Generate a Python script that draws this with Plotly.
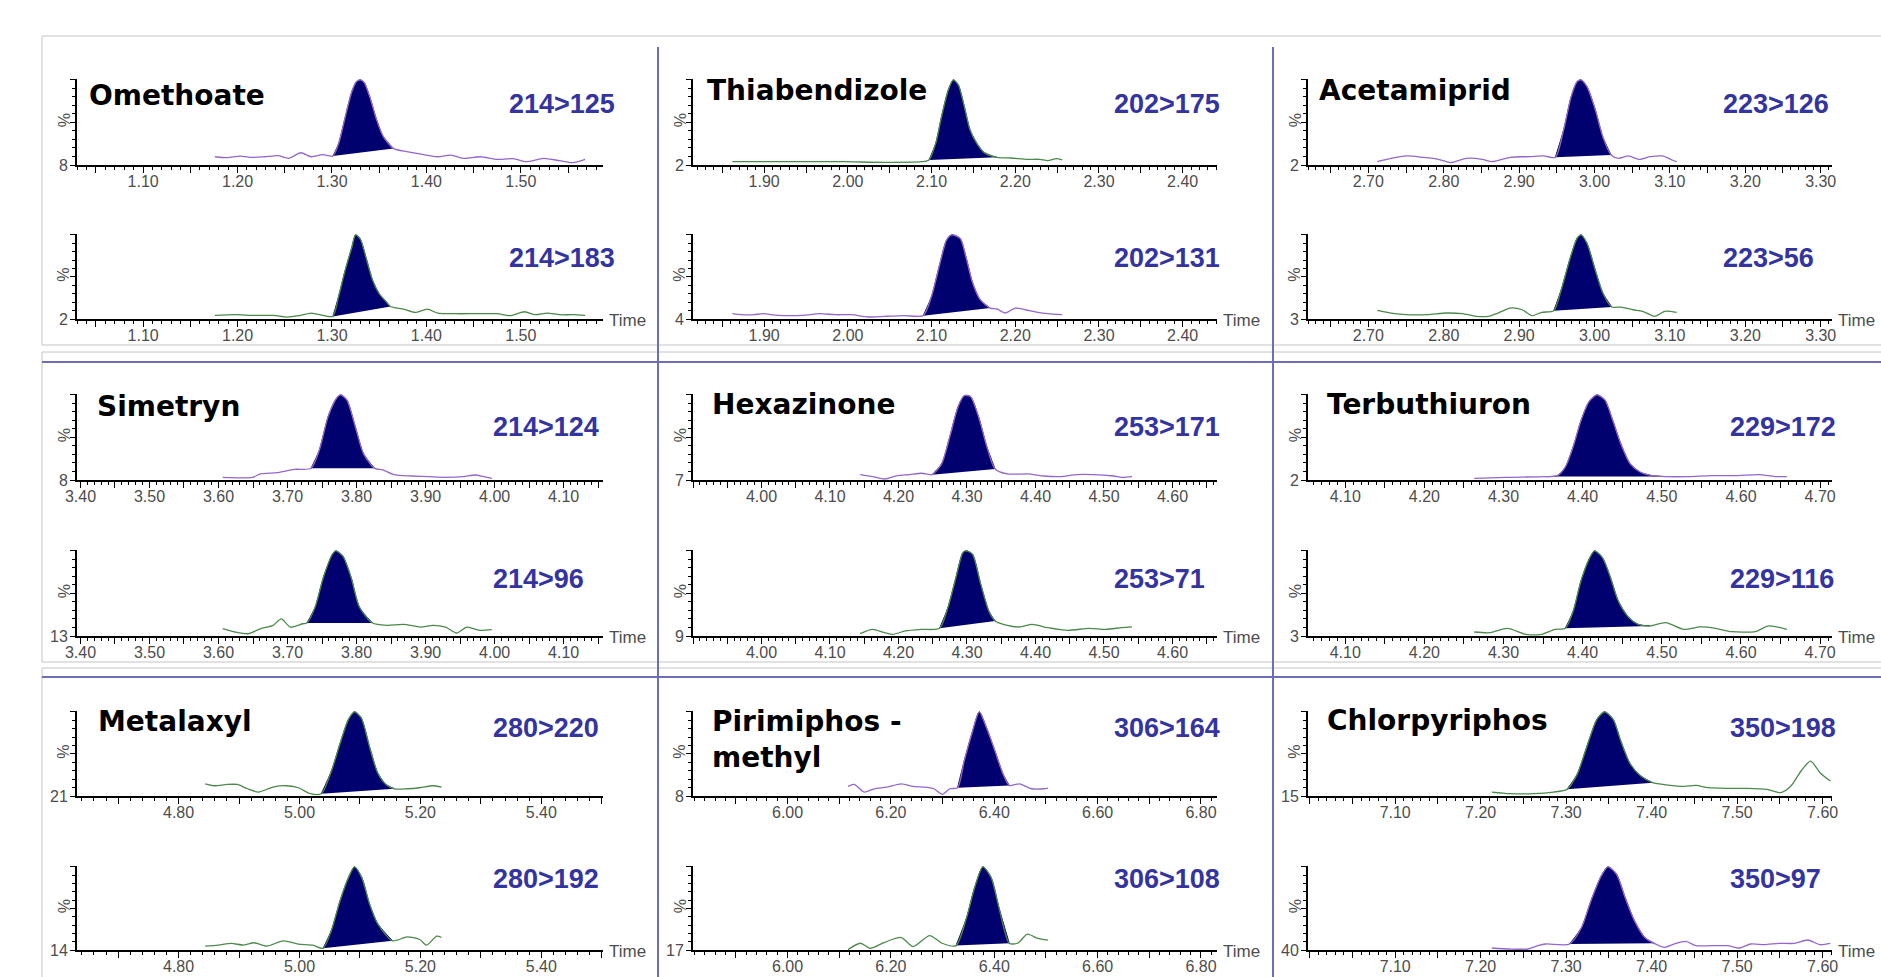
import math
import plotly.graph_objects as go

W, H = 1881, 977

# ---------------- retention-time windows (min) and labelled ticks ----------------
omethoate_xrange = [1.030, 1.587]
omethoate_ticklabels = [1.10, 1.20, 1.30, 1.40, 1.50]
thiabendizole_xrange = [1.815, 2.441]
thiabendizole_ticklabels = [1.90, 2.00, 2.10, 2.20, 2.30, 2.40]
acetamiprid_xrange = [2.620, 3.315]
acetamiprid_ticklabels = [2.70, 2.80, 2.90, 3.00, 3.10, 3.20, 3.30]
simetryn_xrange = [3.395, 4.157]
simetryn_ticklabels = [3.40, 3.50, 3.60, 3.70, 3.80, 3.90, 4.00, 4.10]
hexazinone_xrange = [3.900, 4.665]
hexazinone_ticklabels = [4.00, 4.10, 4.20, 4.30, 4.40, 4.50, 4.60]
terbuthiuron_xrange = [4.053, 4.715]
terbuthiuron_ticklabels = [4.10, 4.20, 4.30, 4.40, 4.50, 4.60, 4.70]
metalaxyl_xrange = [4.632, 5.502]
metalaxyl_ticklabels = [4.80, 5.00, 5.20, 5.40]
pirimiphos_xrange = [5.817, 6.831]
pirimiphos_ticklabels = [6.00, 6.20, 6.40, 6.60, 6.80]
chlorpyriphos_xrange = [6.998, 7.611]
chlorpyriphos_ticklabels = [7.10, 7.20, 7.30, 7.40, 7.50, 7.60]

# ---------------- chromatograms: time (min) / relative intensity (%) ----------------
# Omethoate 214>125
omethoate_125_t = [1.176, 1.189, 1.203, 1.216, 1.229, 1.243, 1.254, 1.267, 1.278, 1.290,
                   1.301, 1.307, 1.314, 1.321, 1.326, 1.330, 1.334, 1.340, 1.347, 1.354,
                   1.365, 1.379, 1.394, 1.412, 1.426, 1.439, 1.457, 1.475, 1.492, 1.506,
                   1.524, 1.541, 1.555, 1.568]
omethoate_125_i = [9.7, 8.6, 10.5, 8.9, 9.7, 10.9, 7.8, 14.4, 9.7, 12.1,
                   10.5, 25, 56, 86, 98, 100, 97, 80, 54, 34,
                   19.5, 15.6, 12.8, 9.7, 11.7, 7.8, 9.7, 6.6, 7.4, 3.9,
                   7.8, 5.1, 2.7, 6.6]
omethoate_125_peak = [1.301, 1.365]
# Omethoate 214>183
omethoate_183_t = [1.176, 1.198, 1.216, 1.238, 1.252, 1.265, 1.278, 1.292, 1.301, 1.307,
                   1.314, 1.321, 1.325, 1.330, 1.336, 1.343, 1.350, 1.357, 1.362, 1.376,
                   1.388, 1.401, 1.412, 1.430, 1.452, 1.475, 1.488, 1.504, 1.515, 1.528,
                   1.541, 1.555, 1.568]
omethoate_183_i = [4.3, 5.1, 4.3, 4.3, 2.3, 3.9, 7.0, 3.9, 3.1, 26.6,
                   57.8, 85, 100, 95, 73, 46, 30, 21, 14.8, 11.7,
                   7.8, 11.7, 7.0, 6.3, 6.3, 6.3, 3.9, 8.6, 5.1, 7.0,
                   5.1, 5.1, 4.3]
omethoate_183_peak = [1.301, 1.362]

# Thiabendizole 202>175
thiabendizole_175_t = [1.862, 1.898, 1.946, 1.995, 2.044, 2.088, 2.097, 2.105, 2.112, 2.120,
                       2.126, 2.132, 2.139, 2.146, 2.154, 2.163, 2.178, 2.195, 2.215, 2.229,
                       2.239, 2.249, 2.256]
thiabendizole_175_i = [3.9, 3.9, 3.9, 3.9, 3.1, 3.9, 5.9, 25.5, 57, 88,
                       100, 94, 69, 41, 25.5, 14.5, 9.0, 8.2, 6.7, 6.7,
                       5.1, 7.5, 5.9]
thiabendizole_175_peak = [2.097, 2.178]
# Thiabendizole 202>131
thiabendizole_131_t = [1.862, 1.873, 1.888, 1.898, 1.917, 1.946, 1.966, 1.985, 2.005, 2.024,
                       2.044, 2.068, 2.090, 2.100, 2.110, 2.118, 2.124, 2.134, 2.141, 2.149,
                       2.158, 2.170, 2.178, 2.188, 2.200, 2.212, 2.227, 2.239, 2.256]
thiabendizole_131_i = [6.3, 5.1, 5.1, 6.3, 4.3, 4.3, 6.3, 5.1, 5.1, 2.4,
                       3.2, 4.0, 4.0, 27, 66, 94, 100, 96, 74, 43,
                       23, 13, 11.9, 7.1, 13, 11, 7.9, 6.3, 5.1]
thiabendizole_131_peak = [2.090, 2.170]

# Acetamiprid 223>126
acetamiprid_126_t = [2.712, 2.730, 2.751, 2.772, 2.793, 2.809, 2.830, 2.851, 2.864, 2.888,
                     2.914, 2.933, 2.948, 2.959, 2.969, 2.977, 2.982, 2.990, 3.001, 3.011,
                     3.022, 3.032, 3.045, 3.059, 3.074, 3.090, 3.103, 3.109]
acetamiprid_126_i = [3.9, 7.8, 10.6, 9.0, 6.7, 2.7, 7.8, 6.7, 3.9, 9.0,
                     9.8, 10.6, 9.0, 41, 80, 98, 100, 92, 65, 33,
                     11.8, 7.8, 10.6, 6.7, 9.8, 10.6, 5.9, 3.9]
acetamiprid_126_peak = [2.948, 3.022]
# Acetamiprid 223>56
acetamiprid_56_t = [2.712, 2.730, 2.751, 2.778, 2.804, 2.825, 2.843, 2.859, 2.872, 2.888,
                    2.904, 2.917, 2.930, 2.946, 2.956, 2.967, 2.977, 2.982, 2.990, 3.001,
                    3.011, 3.023, 3.035, 3.051, 3.064, 3.080, 3.093, 3.109]
acetamiprid_56_i = [10.3, 7.1, 5.1, 5.1, 7.1, 6.3, 3.2, 3.2, 7.1, 13,
                    11, 4.0, 7.9, 9.9, 35, 70, 96, 100, 90, 58,
                    31, 14.2, 14.2, 11, 9.1, 3.2, 9.1, 7.9]
acetamiprid_56_peak = [2.946, 3.023]

# Simetryn 214>124
simetryn_124_t = [3.606, 3.649, 3.661, 3.685, 3.710, 3.734, 3.746, 3.759, 3.771, 3.777,
                  3.786, 3.798, 3.810, 3.826, 3.838, 3.856, 3.880, 3.905, 3.929, 3.954,
                  3.972, 3.984, 3.996]
simetryn_124_i = [3.1, 3.1, 7.1, 8.6, 12.5, 13.7, 35, 75, 96, 100,
                  94, 63, 31, 13.7, 11.8, 5.9, 4.7, 3.9, 3.1, 3.9,
                  5.9, 3.9, 2.0]
simetryn_124_peak = [3.734, 3.826]
# Simetryn 214>96
simetryn_96_t = [3.606, 3.624, 3.643, 3.661, 3.679, 3.691, 3.704, 3.722, 3.728, 3.740,
                 3.752, 3.765, 3.770, 3.780, 3.792, 3.804, 3.823, 3.844, 3.868, 3.893,
                 3.911, 3.929, 3.945, 3.960, 3.978, 3.996]
simetryn_96_i = [8.6, 4.7, 2.7, 8.6, 12.5, 20, 10.5, 14.4, 15.2, 33.9,
                 69, 96, 100, 94, 69, 34, 15.2, 12.5, 13.6, 10.5,
                 12.5, 10.5, 3.5, 10.5, 6.6, 7.4]
simetryn_96_peak = [3.728, 3.823]

# Hexazinone 253>171
hexazinone_171_t = [4.144, 4.162, 4.180, 4.198, 4.216, 4.234, 4.249, 4.263, 4.275, 4.287,
                    4.296, 4.305, 4.317, 4.329, 4.341, 4.359, 4.389, 4.412, 4.436, 4.460,
                    4.484, 4.514, 4.526, 4.541]
hexazinone_171_i = [6.3, 4.0, 1.2, 5.1, 6.3, 7.9, 6.3, 19, 51, 86,
                    99, 98, 74, 39, 13, 7.1, 7.1, 4.7, 4.0, 6.3,
                    6.3, 4.7, 3.2, 4.0]
hexazinone_171_peak = [4.249, 4.341]
# Hexazinone 253>71
hexazinone_71_t = [4.144, 4.162, 4.180, 4.192, 4.210, 4.234, 4.260, 4.272, 4.284, 4.294,
                   4.299, 4.308, 4.320, 4.332, 4.341, 4.353, 4.377, 4.395, 4.418, 4.448,
                   4.478, 4.502, 4.526, 4.541]
hexazinone_71_i = [2.7, 7.8, 3.9, 2.0, 5.9, 7.8, 9.0, 33, 69, 98,
                   100, 96, 61, 29, 17.6, 13.7, 10.6, 13.7, 9.8, 6.7,
                   9.0, 7.8, 9.8, 10.6]
hexazinone_71_peak = [4.260, 4.341]

# Terbuthiuron 229>172
terbuthiuron_172_t = [4.263, 4.303, 4.353, 4.368, 4.378, 4.388, 4.398, 4.408, 4.418, 4.428,
                      4.438, 4.448, 4.460, 4.473, 4.488, 4.505, 4.533, 4.563, 4.593, 4.623,
                      4.643, 4.658]
terbuthiuron_172_i = [2.0, 3.2, 4.0, 5.1, 15, 39, 70, 92, 100, 94,
                      70, 43, 19, 9.1, 5.1, 4.0, 4.0, 5.1, 5.1, 6.3,
                      4.0, 4.0]
terbuthiuron_172_peak = [4.353, 4.505]
# Terbuthiuron 229>116
terbuthiuron_116_t = [4.263, 4.283, 4.305, 4.328, 4.348, 4.365, 4.378, 4.388, 4.398, 4.408,
                      4.415, 4.425, 4.435, 4.445, 4.458, 4.470, 4.485, 4.505, 4.528, 4.548,
                      4.568, 4.588, 4.618, 4.635, 4.658]
terbuthiuron_116_i = [4.7, 3.9, 9.0, 2.0, 2.0, 7.8, 9.0, 29, 65, 90,
                      100, 92, 69, 41, 22, 13.7, 11.8, 15.7, 7.8, 10.6,
                      9.0, 5.1, 5.1, 11.8, 7.8]
terbuthiuron_116_peak = [4.378, 4.485]

# Metalaxyl 280>220
metalaxyl_220_t = [4.844, 4.859, 4.880, 4.897, 4.914, 4.932, 4.956, 4.977, 4.998, 5.018,
                   5.036, 5.053, 5.067, 5.081, 5.091, 5.102, 5.116, 5.129, 5.143, 5.157,
                   5.178, 5.199, 5.220, 5.235]
metalaxyl_220_i = [14.5, 12.2, 13.7, 13.7, 8.6, 4.7, 10.6, 12.2, 9.8, 2.7,
                   2.7, 30, 62, 91, 100, 93, 58, 28, 13.7, 8.6,
                   8.6, 9.8, 12.2, 10.6]
metalaxyl_220_peak = [5.036, 5.157]
# Metalaxyl 280>192
metalaxyl_192_t = [4.844, 4.866, 4.887, 4.908, 4.925, 4.946, 4.973, 4.998, 5.022, 5.039,
                   5.053, 5.067, 5.081, 5.091, 5.103, 5.116, 5.129, 5.154, 5.178, 5.199,
                   5.210, 5.227, 5.235]
metalaxyl_192_i = [4.7, 5.9, 7.9, 5.9, 8.7, 4.7, 11, 7.1, 5.9, 2.0,
                   24, 59, 87, 100, 87, 55, 32, 11, 15.8, 12.6,
                   5.9, 16.6, 15]
metalaxyl_192_peak = [5.039, 5.154]

# Pirimiphos-methyl 306>164
pirimiphos_164_t = [6.117, 6.129, 6.148, 6.168, 6.192, 6.220, 6.243, 6.267, 6.283, 6.300,
                    6.314, 6.329, 6.342, 6.358, 6.371, 6.385, 6.401, 6.417, 6.429, 6.449,
                    6.472, 6.496, 6.504]
pirimiphos_164_i = [11.4, 13.7, 4.7, 8.6, 10.6, 14.5, 11.4, 10.6, 8.6, 2.0,
                    8.6, 9.8, 42, 77, 100, 81, 54, 26, 12.5, 14.5,
                    8.6, 8.6, 9.4]
pirimiphos_164_peak = [6.329, 6.429]
# Pirimiphos-methyl 306>108
pirimiphos_108_t = [6.117, 6.141, 6.160, 6.188, 6.220, 6.243, 6.275, 6.299, 6.326, 6.346,
                    6.362, 6.378, 6.394, 6.409, 6.429, 6.445, 6.464, 6.484, 6.504]
pirimiphos_108_i = [0.5, 8.1, 2.0, 9.3, 15, 4.0, 17.4, 8.1, 5.3, 38,
                    75, 100, 87, 51, 8.1, 8.1, 19, 14, 12]
pirimiphos_108_peak = [6.326, 6.429]

# Chlorpyriphos 350>198
chlorpyriphos_198_t = [7.213, 7.234, 7.262, 7.285, 7.301, 7.313, 7.325, 7.336, 7.345, 7.355,
                       7.364, 7.375, 7.387, 7.401, 7.419, 7.438, 7.452, 7.466, 7.489, 7.511,
                       7.535, 7.551, 7.563, 7.575, 7.586, 7.597, 7.609]
chlorpyriphos_198_i = [4.7, 2.8, 2.8, 4.7, 7.9, 26, 61, 91, 100, 91,
                       65, 38, 24, 15.8, 13, 11.5, 12.6, 9.9, 9.1, 9.1,
                       7.9, 4.0, 11.9, 30, 41.5, 27.7, 17.8]
chlorpyriphos_198_peak = [7.301, 7.401]
# Chlorpyriphos 350>97
chlorpyriphos_97_t = [7.213, 7.234, 7.255, 7.267, 7.276, 7.304, 7.318, 7.329, 7.341, 7.349,
                      7.359, 7.369, 7.380, 7.392, 7.403, 7.415, 7.426, 7.440, 7.452, 7.470,
                      7.489, 7.503, 7.516, 7.532, 7.549, 7.567, 7.583, 7.597, 7.609]
chlorpyriphos_97_i = [2.4, 1.2, 1.2, 5.2, 7.2, 7.2, 27, 59, 89, 100,
                      91, 63, 35, 15, 8.0, 3.2, 7.2, 10.4, 5.2, 5.2,
                      5.2, 2.4, 7.2, 6.4, 8.0, 8.0, 12, 6.4, 8.0]
chlorpyriphos_97_peak = [7.304, 7.403]

# ---------------- panel description ----------------
PURPLE = "#9467cc"
GREEN = "#4b8a4b"
NAVY = "#00006e"
LABEL_BLUE = "#3434a0"
FRAME_BLUE = "#6e6eb4"
FRAME_GREY = "#c4c4c4"
TICK_GREY = "#4d4d4d"

panels = [
    # row 1
    dict(name="Omethoate", xr=omethoate_xrange, labels=omethoate_ticklabels, major=0.05, minor=0.01,
         traces=[("214>125", "8", omethoate_125_t, omethoate_125_i, omethoate_125_peak, PURPLE),
                 ("214>183", "2", omethoate_183_t, omethoate_183_i, omethoate_183_peak, GREEN)]),
    dict(name="Thiabendizole", xr=thiabendizole_xrange, labels=thiabendizole_ticklabels, major=0.05, minor=0.01,
         traces=[("202>175", "2", thiabendizole_175_t, thiabendizole_175_i, thiabendizole_175_peak, GREEN),
                 ("202>131", "4", thiabendizole_131_t, thiabendizole_131_i, thiabendizole_131_peak, PURPLE)]),
    dict(name="Acetamiprid", xr=acetamiprid_xrange, labels=acetamiprid_ticklabels, major=0.05, minor=0.01,
         traces=[("223>126", "2", acetamiprid_126_t, acetamiprid_126_i, acetamiprid_126_peak, PURPLE),
                 ("223>56", "3", acetamiprid_56_t, acetamiprid_56_i, acetamiprid_56_peak, GREEN)]),
    # row 2
    dict(name="Simetryn", xr=simetryn_xrange, labels=simetryn_ticklabels, major=0.05, minor=0.01,
         traces=[("214>124", "8", simetryn_124_t, simetryn_124_i, simetryn_124_peak, PURPLE),
                 ("214>96", "13", simetryn_96_t, simetryn_96_i, simetryn_96_peak, GREEN)]),
    dict(name="Hexazinone", xr=hexazinone_xrange, labels=hexazinone_ticklabels, major=0.05, minor=0.01,
         traces=[("253>171", "7", hexazinone_171_t, hexazinone_171_i, hexazinone_171_peak, PURPLE),
                 ("253>71", "9", hexazinone_71_t, hexazinone_71_i, hexazinone_71_peak, GREEN)]),
    dict(name="Terbuthiuron", xr=terbuthiuron_xrange, labels=terbuthiuron_ticklabels, major=0.05, minor=0.01,
         traces=[("229>172", "2", terbuthiuron_172_t, terbuthiuron_172_i, terbuthiuron_172_peak, PURPLE),
                 ("229>116", "3", terbuthiuron_116_t, terbuthiuron_116_i, terbuthiuron_116_peak, GREEN)]),
    # row 3
    dict(name="Metalaxyl", xr=metalaxyl_xrange, labels=metalaxyl_ticklabels, major=0.1, minor=0.02,
         traces=[("280>220", "21", metalaxyl_220_t, metalaxyl_220_i, metalaxyl_220_peak, GREEN),
                 ("280>192", "14", metalaxyl_192_t, metalaxyl_192_i, metalaxyl_192_peak, GREEN)]),
    dict(name="Pirimiphos -<br>methyl", xr=pirimiphos_xrange, labels=pirimiphos_ticklabels, major=0.1, minor=0.02,
         traces=[("306>164", "8", pirimiphos_164_t, pirimiphos_164_i, pirimiphos_164_peak, PURPLE),
                 ("306>108", "17", pirimiphos_108_t, pirimiphos_108_i, pirimiphos_108_peak, GREEN)]),
    dict(name="Chlorpyriphos", xr=chlorpyriphos_xrange, labels=chlorpyriphos_ticklabels, major=0.05, minor=0.01,
         traces=[("350>198", "15", chlorpyriphos_198_t, chlorpyriphos_198_i, chlorpyriphos_198_peak, GREEN),
                 ("350>97", "40", chlorpyriphos_97_t, chlorpyriphos_97_i, chlorpyriphos_97_peak, PURPLE)]),
]

# pixel geometry of the 3x3 grid (each cell holds two stacked chromatograms)
col_px = [(77, 603), (693, 1217), (1308, 1832)]
rows_px = [((79, 165), (234, 319)), ((394, 480), (550, 636)), ((711, 796), (866, 950))]
title_pos = [[(87, 95), (705, 90), (1317, 90)],
             [(95, 406), (710, 405), (1325, 405)],
             [(96, 721), (710, 739), (1325, 720)]]
label_left = [[507, 1112, 1721], [491, 1112, 1728], [491, 1112, 1728]]
label_dy = [(25, 24), (33, 29), (17, 13)]


def fx(px):
    return px / W


def fy(py):
    return 1 - py / H


fig = go.Figure()
layout = {}
annotations = []
shapes = []

tick_font = dict(family="Liberation Sans, Arial, sans-serif", size=16, color=TICK_GREY)
SMOOTH = 0.7

n = 0
for p_idx, panel in enumerate(panels):
    r, c = divmod(p_idx, 3)
    x0, x1 = col_px[c]
    a, b = panel["xr"]
    step = panel["major"]
    majors = [round(k * step, 2) for k in range(math.ceil(a / step - 1e-9), math.floor(b / step + 1e-9) + 1)]
    label_set = {round(v, 2) for v in panel["labels"]}
    texts = [f"{v:.2f}" if round(v, 2) in label_set else "" for v in majors]

    for s_idx, (trans, base, ts, ys, peak, color) in enumerate(panel["traces"]):
        n += 1
        yt, yb = rows_px[r][s_idx]
        xa = "x" if n == 1 else f"x{n}"
        ya = "y" if n == 1 else f"y{n}"

        # integrated peak area: curve between start/end closed by a straight baseline
        sel = [k for k, t in enumerate(ts) if peak[0] - 1e-9 <= t <= peak[1] + 1e-9]
        fig.add_trace(go.Scatter(
            x=[ts[k] for k in sel], y=[ys[k] for k in sel], mode="lines",
            fill="toself", fillcolor=NAVY,
            line=dict(color="#15153a", width=1, shape="spline", smoothing=SMOOTH),
            xaxis=xa, yaxis=ya, hoverinfo="skip", showlegend=False))
        fig.add_trace(go.Scatter(
            x=ts, y=ys, mode="lines",
            line=dict(color=color, width=1.3, shape="spline", smoothing=SMOOTH),
            xaxis=xa, yaxis=ya, hoverinfo="skip", showlegend=False))

        layout[f"xaxis{'' if n == 1 else n}"] = dict(
            domain=[fx(x0), fx(x1)], anchor=ya, range=[a, b], automargin=False,
            showline=True, linecolor="black", linewidth=2,
            ticks="outside", ticklen=6, tickwidth=1, tickcolor="black",
            tickmode="array", tickvals=majors, ticktext=texts, tickfont=tick_font,
            ticklabelstandoff=-5,
            minor=dict(tickmode="linear", tick0=0, dtick=panel["minor"], ticks="outside",
                       ticklen=3, tickcolor="black", tickwidth=1, showgrid=False),
            showgrid=False, zeroline=False, fixedrange=True)
        layout[f"yaxis{'' if n == 1 else n}"] = dict(
            domain=[fy(yb), fy(yt)], anchor=xa, range=[0, 101], automargin=False,
            showline=True, linecolor="black", linewidth=2,
            ticks="outside", ticklen=5, tickwidth=1, tickcolor="black",
            tickmode="array", tickvals=[0, 50, 100], ticktext=[base, "", ""], tickfont=tick_font,
            ticklabelstandoff=-1,
            minor=dict(tickmode="linear", tick0=0, dtick=10, ticks="outside",
                       ticklen=3, tickcolor="black", tickwidth=1, showgrid=False),
            showgrid=False, zeroline=False, fixedrange=True)

        # "%" axis caption
        annotations.append(dict(
            x=fx(x0 - 13), y=fy(yb - 0.52 * (yb - yt)), xref="paper", yref="paper",
            text="%", textangle=-90, showarrow=False, xanchor="center", yanchor="middle",
            font=dict(family="Liberation Sans, Arial", size=16, color=TICK_GREY)))
        # MRM transition label
        annotations.append(dict(
            x=fx(label_left[r][c]), y=fy(yt + label_dy[r][s_idx]), xref="paper", yref="paper",
            text=f"<b>{trans}</b>", showarrow=False, xanchor="left", yanchor="middle",
            font=dict(family="Liberation Sans, Arial", size=27, color=LABEL_BLUE)))
        if s_idx == 1:
            annotations.append(dict(
                x=fx(x1 + 4), y=fy(yb + 1), xref="paper", yref="paper",
                text="Time", showarrow=False, xanchor="left", yanchor="middle",
                font=dict(family="Liberation Sans, Arial", size=17, color=TICK_GREY)))

    tx, ty = title_pos[r][c]
    annotations.append(dict(
        x=fx(tx), y=fy(ty), xref="paper", yref="paper", text=f"<b>{panel['name']}</b>",
        showarrow=False, xanchor="left", yanchor="middle", align="left",
        font=dict(family="DejaVu Sans, Verdana, sans-serif", size=28, color="black")))

# frame: grey boxes around each row, blue separators
for top, bot in [(36, 345), (352, 662), (668, 995)]:
    shapes.append(dict(type="rect", xref="paper", yref="paper", x0=fx(42), x1=fx(1895),
                       y0=fy(bot), y1=fy(top), line=dict(color=FRAME_GREY, width=1), layer="below"))
for yl in (362, 677):
    shapes.append(dict(type="line", xref="paper", yref="paper", x0=fx(42), x1=fx(1895),
                       y0=fy(yl), y1=fy(yl), line=dict(color=FRAME_BLUE, width=2), layer="below"))
for xl in (658, 1273):
    shapes.append(dict(type="line", xref="paper", yref="paper", x0=fx(xl), x1=fx(xl),
                       y0=fy(47), y1=fy(990), line=dict(color=FRAME_BLUE, width=2), layer="below"))

fig.update_layout(
    template="none",
    width=W, height=H, margin=dict(l=0, r=0, t=0, b=0, pad=0), autosize=False,
    paper_bgcolor="white", plot_bgcolor="rgba(0,0,0,0)",
    showlegend=False, hovermode=False,
    annotations=annotations, shapes=shapes, **layout)

fig.write_html("out.html", config={"displayModeBar": False, "staticPlot": True})
